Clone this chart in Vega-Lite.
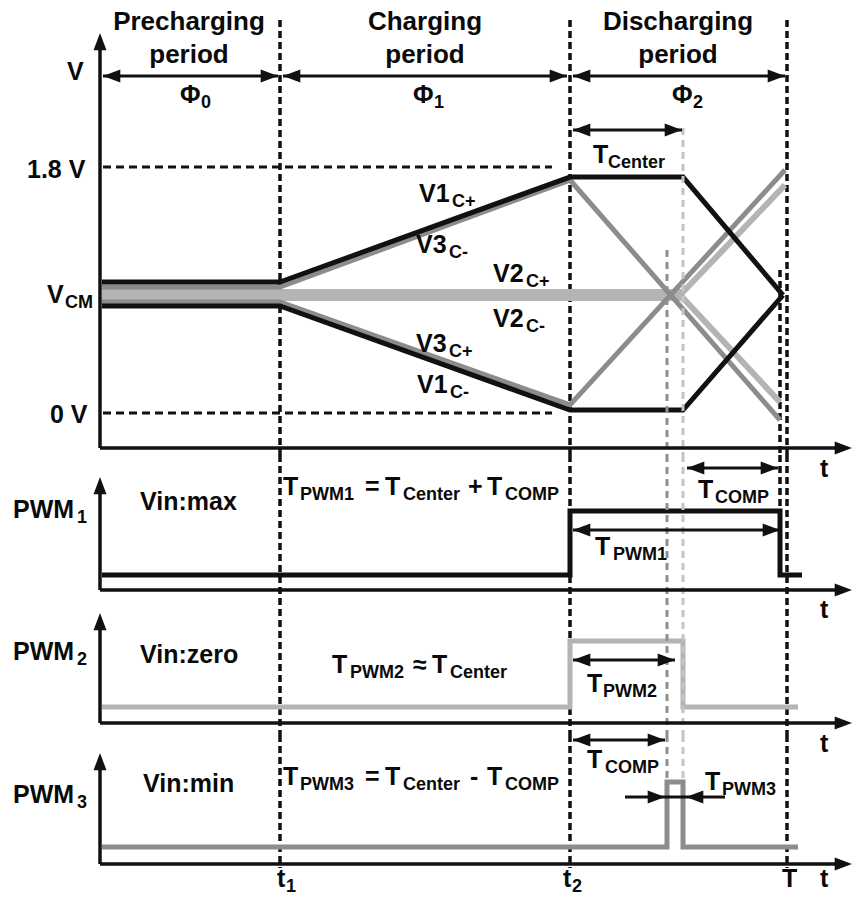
{
  "$schema": "https://vega.github.io/schema/vega-lite/v6.json",
  "padding": 0,
  "spacing": 0,
  "bounds": "flush",
  "background": "white",
  "config": {"view": {"stroke": null}, "text": {"font": "Liberation Sans", "fontWeight": "bold", "color": "#0a0a0a"}},
  "datasets": {
    "waves": [
      {"panel": "A", "grp": "V2", "series": "V2C+", "i": 0, "t": 0.02, "v": 0.885},
      {"panel": "A", "grp": "V2", "series": "V2C+", "i": 1, "t": 5.83, "v": 0.885},
      {"panel": "A", "grp": "V2", "series": "V2C+", "i": 2, "t": 6.85, "v": 1.668},
      {"panel": "A", "grp": "V2", "series": "V2C-", "i": 0, "t": 0.02, "v": 0.841},
      {"panel": "A", "grp": "V2", "series": "V2C-", "i": 1, "t": 5.83, "v": 0.841},
      {"panel": "A", "grp": "V2", "series": "V2C-", "i": 2, "t": 6.80, "v": 0.080},
      {"panel": "A", "grp": "V3", "series": "V3C-", "i": 0, "t": 0.02, "v": 0.922},
      {"panel": "A", "grp": "V3", "series": "V3C-", "i": 1, "t": 1.8, "v": 0.922},
      {"panel": "A", "grp": "V3", "series": "V3C-", "i": 2, "t": 4.7, "v": 1.704},
      {"panel": "A", "grp": "V3", "series": "V3C-", "i": 3, "t": 6.8, "v": -0.051},
      {"panel": "A", "grp": "V3", "series": "V3C+", "i": 0, "t": 0.02, "v": 0.812},
      {"panel": "A", "grp": "V3", "series": "V3C+", "i": 1, "t": 1.8, "v": 0.812},
      {"panel": "A", "grp": "V3", "series": "V3C+", "i": 2, "t": 4.7, "v": 0.059},
      {"panel": "A", "grp": "V3", "series": "V3C+", "i": 3, "t": 6.85, "v": 1.778},
      {"panel": "A", "grp": "V1", "series": "V1C+", "i": 0, "t": 0.02, "v": 0.958},
      {"panel": "A", "grp": "V1", "series": "V1C+", "i": 1, "t": 1.8, "v": 0.958},
      {"panel": "A", "grp": "V1", "series": "V1C+", "i": 2, "t": 4.7, "v": 1.726},
      {"panel": "A", "grp": "V1", "series": "V1C+", "i": 3, "t": 5.83, "v": 1.726},
      {"panel": "A", "grp": "V1", "series": "V1C+", "i": 4, "t": 6.83, "v": 0.863},
      {"panel": "A", "grp": "V1", "series": "V1C-", "i": 0, "t": 0.02, "v": 0.783},
      {"panel": "A", "grp": "V1", "series": "V1C-", "i": 1, "t": 1.8, "v": 0.783},
      {"panel": "A", "grp": "V1", "series": "V1C-", "i": 2, "t": 4.7, "v": 0.022},
      {"panel": "A", "grp": "V1", "series": "V1C-", "i": 3, "t": 5.83, "v": 0.022},
      {"panel": "A", "grp": "V1", "series": "V1C-", "i": 4, "t": 6.83, "v": 0.863},
      {"panel": "B", "grp": "P1", "series": "PWM1", "i": 0, "t": 0.02, "v": 0},
      {"panel": "B", "grp": "P1", "series": "PWM1", "i": 1, "t": 4.7, "v": 0},
      {"panel": "B", "grp": "P1", "series": "PWM1", "i": 2, "t": 4.7, "v": 1},
      {"panel": "B", "grp": "P1", "series": "PWM1", "i": 3, "t": 6.8, "v": 1},
      {"panel": "B", "grp": "P1", "series": "PWM1", "i": 4, "t": 6.8, "v": 0},
      {"panel": "B", "grp": "P1", "series": "PWM1", "i": 5, "t": 7.02, "v": 0},
      {"panel": "C", "grp": "P2", "series": "PWM2", "i": 0, "t": 0.02, "v": 0},
      {"panel": "C", "grp": "P2", "series": "PWM2", "i": 1, "t": 4.7, "v": 0},
      {"panel": "C", "grp": "P2", "series": "PWM2", "i": 2, "t": 4.7, "v": 1},
      {"panel": "C", "grp": "P2", "series": "PWM2", "i": 3, "t": 5.83, "v": 1},
      {"panel": "C", "grp": "P2", "series": "PWM2", "i": 4, "t": 5.83, "v": 0},
      {"panel": "C", "grp": "P2", "series": "PWM2", "i": 5, "t": 6.98, "v": 0},
      {"panel": "D", "grp": "P3", "series": "PWM3", "i": 0, "t": 0.02, "v": 0},
      {"panel": "D", "grp": "P3", "series": "PWM3", "i": 1, "t": 5.67, "v": 0},
      {"panel": "D", "grp": "P3", "series": "PWM3", "i": 2, "t": 5.67, "v": 1},
      {"panel": "D", "grp": "P3", "series": "PWM3", "i": 3, "t": 5.83, "v": 1},
      {"panel": "D", "grp": "P3", "series": "PWM3", "i": 4, "t": 5.83, "v": 0},
      {"panel": "D", "grp": "P3", "series": "PWM3", "i": 5, "t": 6.98, "v": 0}
    ],
    "vlines": [
      {"panel": "A", "kind": "edge", "t": 1.8, "v": 2.875, "v2": -0.307},
      {"panel": "A", "kind": "edge", "t": 4.7, "v": 2.875, "v2": -0.307},
      {"panel": "A", "kind": "edge", "t": 6.87, "v": 2.875, "v2": -0.307},
      {"panel": "A", "kind": "edge", "t": 6.8, "v": 1.046, "v2": -0.307},
      {"panel": "A", "kind": "comp", "t": 5.67, "v": 1.192, "v2": -0.307},
      {"panel": "A", "kind": "center", "t": 5.83, "v": 2.085, "v2": -0.307},
      {"panel": "B", "kind": "edge", "t": 1.8, "v": 1.875, "v2": -0.359},
      {"panel": "B", "kind": "edge", "t": 4.7, "v": 1.875, "v2": -0.359},
      {"panel": "B", "kind": "edge", "t": 6.87, "v": 1.875, "v2": -0.359},
      {"panel": "B", "kind": "edge", "t": 6.8, "v": 1.875, "v2": -0.031},
      {"panel": "B", "kind": "comp", "t": 5.67, "v": 1.875, "v2": -0.359},
      {"panel": "B", "kind": "center", "t": 5.83, "v": 1.875, "v2": -0.359},
      {"panel": "C", "kind": "edge", "t": 1.8, "v": 1.652, "v2": -0.424},
      {"panel": "C", "kind": "edge", "t": 4.7, "v": 1.652, "v2": -0.424},
      {"panel": "C", "kind": "edge", "t": 6.87, "v": 1.652, "v2": -0.424},
      {"panel": "C", "kind": "comp", "t": 5.67, "v": 1.652, "v2": -0.424},
      {"panel": "C", "kind": "center", "t": 5.83, "v": 1.652, "v2": -0.424},
      {"panel": "D", "kind": "edge", "t": 1.8, "v": 1.723, "v2": -0.323},
      {"panel": "D", "kind": "edge", "t": 4.7, "v": 1.723, "v2": -0.323},
      {"panel": "D", "kind": "edge", "t": 6.87, "v": 1.723, "v2": -0.323},
      {"panel": "D", "kind": "comp", "t": 5.67, "v": 1.723, "v2": 1.0},
      {"panel": "D", "kind": "center", "t": 5.83, "v": 1.723, "v2": 1.0}
    ],
    "hlines": [
      {"panel": "A", "t": 0.03, "t2": 4.52, "v": 1.8},
      {"panel": "A", "t": 0.03, "t2": 4.52, "v": 0}
    ],
    "shafts": [
      {"panel": "A", "role": "axis", "t": 0, "v": -0.256, "t2": 0, "v2": 2.70},
      {"panel": "A", "role": "axis", "t": 0, "v": -0.256, "t2": 7.40, "v2": -0.256},
      {"panel": "A", "role": "dim", "t": 0.03, "v": 2.465, "t2": 1.78, "v2": 2.465},
      {"panel": "A", "role": "dim", "t": 1.83, "v": 2.465, "t2": 4.67, "v2": 2.465},
      {"panel": "A", "role": "dim", "t": 4.73, "v": 2.465, "t2": 6.85, "v2": 2.465},
      {"panel": "A", "role": "dim", "t": 4.73, "v": 2.07, "t2": 5.82, "v2": 2.07},
      {"panel": "B", "role": "axis", "t": 0, "v": -0.234, "t2": 0, "v2": 1.45},
      {"panel": "B", "role": "axis", "t": 0, "v": -0.234, "t2": 7.40, "v2": -0.234},
      {"panel": "B", "role": "dim", "t": 5.87, "v": 1.672, "t2": 6.78, "v2": 1.672},
      {"panel": "B", "role": "dim", "t": 4.73, "v": 0.703, "t2": 6.80, "v2": 0.703},
      {"panel": "C", "role": "axis", "t": 0, "v": -0.242, "t2": 0, "v2": 1.35},
      {"panel": "C", "role": "axis", "t": 0, "v": -0.242, "t2": 7.40, "v2": -0.242},
      {"panel": "C", "role": "dim", "t": 4.73, "v": 0.712, "t2": 5.75, "v2": 0.712},
      {"panel": "D", "role": "axis", "t": 0, "v": -0.262, "t2": 0, "v2": 1.37},
      {"panel": "D", "role": "axis", "t": 0, "v": -0.262, "t2": 7.40, "v2": -0.262},
      {"panel": "D", "role": "dim", "t": 4.73, "v": 1.646, "t2": 5.65, "v2": 1.646},
      {"panel": "D", "role": "dim", "t": 5.25, "v": 0.769, "t2": 6.25, "v2": 0.769}
    ],
    "heads": [
      {"panel": "A", "dir": "up", "t": 0, "v": 2.78},
      {"panel": "A", "dir": "right", "t": 7.52, "v": -0.256},
      {"panel": "A", "dir": "left", "t": 0.03, "v": 2.465},
      {"panel": "A", "dir": "right", "t": 1.78, "v": 2.465},
      {"panel": "A", "dir": "left", "t": 1.83, "v": 2.465},
      {"panel": "A", "dir": "right", "t": 4.67, "v": 2.465},
      {"panel": "A", "dir": "left", "t": 4.73, "v": 2.465},
      {"panel": "A", "dir": "right", "t": 6.85, "v": 2.465},
      {"panel": "A", "dir": "left", "t": 4.73, "v": 2.07},
      {"panel": "A", "dir": "right", "t": 5.82, "v": 2.07},
      {"panel": "B", "dir": "up", "t": 0, "v": 1.531},
      {"panel": "B", "dir": "right", "t": 7.52, "v": -0.234},
      {"panel": "B", "dir": "left", "t": 5.87, "v": 1.672},
      {"panel": "B", "dir": "right", "t": 6.78, "v": 1.672},
      {"panel": "B", "dir": "left", "t": 4.73, "v": 0.703},
      {"panel": "B", "dir": "right", "t": 6.80, "v": 0.703},
      {"panel": "C", "dir": "up", "t": 0, "v": 1.424},
      {"panel": "C", "dir": "right", "t": 7.52, "v": -0.242},
      {"panel": "C", "dir": "left", "t": 4.73, "v": 0.712},
      {"panel": "C", "dir": "right", "t": 5.75, "v": 0.712},
      {"panel": "D", "dir": "up", "t": 0, "v": 1.446},
      {"panel": "D", "dir": "right", "t": 7.52, "v": -0.262},
      {"panel": "D", "dir": "left", "t": 4.73, "v": 1.646},
      {"panel": "D", "dir": "right", "t": 5.65, "v": 1.646},
      {"panel": "D", "dir": "right", "t": 5.65, "v": 0.769},
      {"panel": "D", "dir": "left", "t": 5.86, "v": 0.769}
    ],
    "texts": [
      {"panel": "A", "kind": "head", "text": "Precharging", "t": 0.89, "v": 2.802},
      {"panel": "A", "kind": "head", "text": "period", "t": 0.89, "v": 2.560},
      {"panel": "A", "kind": "head", "text": "Charging", "t": 3.25, "v": 2.802},
      {"panel": "A", "kind": "head", "text": "period", "t": 3.25, "v": 2.560},
      {"panel": "A", "kind": "head", "text": "Discharging", "t": 5.78, "v": 2.802},
      {"panel": "A", "kind": "head", "text": "period", "t": 5.78, "v": 2.560},
      {"panel": "A", "kind": "main", "text": "Φ", "t": 0.80, "v": 2.268},
      {"panel": "A", "kind": "sub", "text": "0", "t": 1.01, "v": 2.268},
      {"panel": "A", "kind": "main", "text": "Φ", "t": 3.13, "v": 2.268},
      {"panel": "A", "kind": "sub", "text": "1", "t": 3.34, "v": 2.268},
      {"panel": "A", "kind": "main", "text": "Φ", "t": 5.72, "v": 2.268},
      {"panel": "A", "kind": "sub", "text": "2", "t": 5.93, "v": 2.268},
      {"panel": "A", "kind": "main", "text": "V", "t": -0.33, "v": 2.436},
      {"panel": "A", "kind": "main", "text": "1.8 V", "t": -0.73, "v": 1.719},
      {"panel": "A", "kind": "main", "text": "V", "t": -0.53, "v": 0.805},
      {"panel": "A", "kind": "sub", "text": "CM", "t": -0.35, "v": 0.805},
      {"panel": "A", "kind": "main", "text": "0 V", "t": -0.50, "v": -0.073},
      {"panel": "A", "kind": "main", "text": "T", "t": 4.93, "v": 1.829},
      {"panel": "A", "kind": "sub", "text": "Center", "t": 5.08, "v": 1.829},
      {"panel": "A", "kind": "main", "text": "V1", "t": 3.19, "v": 1.544},
      {"panel": "A", "kind": "sub", "text": "C+", "t": 3.52, "v": 1.544},
      {"panel": "A", "kind": "main", "text": "V3", "t": 3.16, "v": 1.170},
      {"panel": "A", "kind": "sub", "text": "C-", "t": 3.49, "v": 1.170},
      {"panel": "A", "kind": "main", "text": "V2", "t": 3.93, "v": 0.958},
      {"panel": "A", "kind": "sub", "text": "C+", "t": 4.26, "v": 0.958},
      {"panel": "A", "kind": "main", "text": "V2", "t": 3.93, "v": 0.629},
      {"panel": "A", "kind": "sub", "text": "C-", "t": 4.26, "v": 0.629},
      {"panel": "A", "kind": "main", "text": "V3", "t": 3.16, "v": 0.446},
      {"panel": "A", "kind": "sub", "text": "C+", "t": 3.49, "v": 0.446},
      {"panel": "A", "kind": "main", "text": "V1", "t": 3.17, "v": 0.146},
      {"panel": "A", "kind": "sub", "text": "C-", "t": 3.50, "v": 0.146},
      {"panel": "B", "kind": "main", "text": "t", "t": 7.20, "v": 1.531},
      {"panel": "B", "kind": "main", "text": "PWM", "t": -0.87, "v": 0.891},
      {"panel": "B", "kind": "sub", "text": "1", "t": -0.23, "v": 0.891},
      {"panel": "B", "kind": "main", "text": "Vin:max", "t": 0.40, "v": 1.016},
      {"panel": "B", "kind": "main", "text": "T", "t": 1.83, "v": 1.25},
      {"panel": "B", "kind": "sub", "text": "PWM1", "t": 2.00, "v": 1.25},
      {"panel": "B", "kind": "main", "text": "=", "t": 2.65, "v": 1.25},
      {"panel": "B", "kind": "main", "text": "T", "t": 2.85, "v": 1.25},
      {"panel": "B", "kind": "sub", "text": "Center", "t": 3.03, "v": 1.25},
      {"panel": "B", "kind": "main", "text": "+", "t": 3.68, "v": 1.25},
      {"panel": "B", "kind": "main", "text": "T", "t": 3.87, "v": 1.25},
      {"panel": "B", "kind": "sub", "text": "COMP", "t": 4.05, "v": 1.25},
      {"panel": "B", "kind": "main", "text": "T", "t": 5.98, "v": 1.203},
      {"panel": "B", "kind": "sub", "text": "COMP", "t": 6.15, "v": 1.203},
      {"panel": "B", "kind": "main", "text": "T", "t": 4.95, "v": 0.3125},
      {"panel": "B", "kind": "sub", "text": "PWM1", "t": 5.13, "v": 0.3125},
      {"panel": "C", "kind": "main", "text": "t", "t": 7.20, "v": 1.348},
      {"panel": "C", "kind": "main", "text": "PWM", "t": -0.87, "v": 0.712},
      {"panel": "C", "kind": "sub", "text": "2", "t": -0.23, "v": 0.712},
      {"panel": "C", "kind": "main", "text": "Vin:zero", "t": 0.40, "v": 0.667},
      {"panel": "C", "kind": "main", "text": "T", "t": 2.32, "v": 0.515},
      {"panel": "C", "kind": "sub", "text": "PWM2", "t": 2.50, "v": 0.515},
      {"panel": "C", "kind": "main", "text": "≈", "t": 3.13, "v": 0.515},
      {"panel": "C", "kind": "main", "text": "T", "t": 3.32, "v": 0.515},
      {"panel": "C", "kind": "sub", "text": "Center", "t": 3.50, "v": 0.515},
      {"panel": "C", "kind": "main", "text": "T", "t": 4.87, "v": 0.227},
      {"panel": "C", "kind": "sub", "text": "PWM2", "t": 5.03, "v": 0.227},
      {"panel": "D", "kind": "main", "text": "t", "t": 7.20, "v": 1.462},
      {"panel": "D", "kind": "main", "text": "PWM", "t": -0.87, "v": 0.677},
      {"panel": "D", "kind": "sub", "text": "3", "t": -0.23, "v": 0.677},
      {"panel": "D", "kind": "main", "text": "Vin:min", "t": 0.43, "v": 0.846},
      {"panel": "D", "kind": "main", "text": "T", "t": 1.83, "v": 0.954},
      {"panel": "D", "kind": "sub", "text": "PWM3", "t": 2.00, "v": 0.954},
      {"panel": "D", "kind": "main", "text": "=", "t": 2.65, "v": 0.954},
      {"panel": "D", "kind": "main", "text": "T", "t": 2.85, "v": 0.954},
      {"panel": "D", "kind": "sub", "text": "Center", "t": 3.03, "v": 0.954},
      {"panel": "D", "kind": "main", "text": "-", "t": 3.70, "v": 0.954},
      {"panel": "D", "kind": "main", "text": "T", "t": 3.87, "v": 0.954},
      {"panel": "D", "kind": "sub", "text": "COMP", "t": 4.05, "v": 0.954},
      {"panel": "D", "kind": "main", "text": "T", "t": 4.87, "v": 1.215},
      {"panel": "D", "kind": "sub", "text": "COMP", "t": 5.05, "v": 1.215},
      {"panel": "D", "kind": "main", "text": "T", "t": 6.05, "v": 0.877},
      {"panel": "D", "kind": "sub", "text": "PWM3", "t": 6.22, "v": 0.877},
      {"panel": "D", "kind": "main", "text": "t", "t": 1.77, "v": -0.615},
      {"panel": "D", "kind": "sub", "text": "1", "t": 1.86, "v": -0.615},
      {"panel": "D", "kind": "main", "text": "t", "t": 4.63, "v": -0.615},
      {"panel": "D", "kind": "sub", "text": "2", "t": 4.72, "v": -0.615},
      {"panel": "D", "kind": "main", "text": "T", "t": 6.82, "v": -0.615},
      {"panel": "D", "kind": "main", "text": "t", "t": 7.20, "v": -0.615}
    ]
  },
  "vconcat": [
    {
      "width": 856, "height": 455,
      "encoding": {
        "x": {"field": "t", "type": "quantitative", "scale": {"domain": [-1.0, 7.56], "nice": false, "zero": false}, "axis": null},
        "y": {"field": "v", "type": "quantitative", "scale": {"domain": [-0.307, 3.021], "nice": false, "zero": false}, "axis": null}
      },
      "layer": [
        {"data": {"name": "vlines"}, "transform": [{"filter": "datum.panel === 'A' && datum.kind === 'edge'"}], "mark": {"type": "rule", "color": "#111111", "strokeWidth": 3.5, "strokeDash": [7, 4]}, "encoding": {"y2": {"field": "v2"}}},
        {"data": {"name": "hlines"}, "transform": [{"filter": "datum.panel === 'A'"}], "mark": {"type": "rule", "color": "#111111", "strokeWidth": 3, "strokeDash": [8, 5]}, "encoding": {"x2": {"field": "t2"}}},
        {"data": {"name": "waves"}, "transform": [{"filter": "datum.panel === 'A' && datum.grp === 'V2'"}], "mark": {"type": "line", "color": "#b4b4b4", "strokeWidth": 6}, "encoding": {"detail": {"field": "series"}, "order": {"field": "i", "type": "quantitative"}}},
        {"data": {"name": "waves"}, "transform": [{"filter": "datum.panel === 'A' && datum.grp === 'V3'"}], "mark": {"type": "line", "color": "#8c8c8c", "strokeWidth": 5}, "encoding": {"detail": {"field": "series"}, "order": {"field": "i", "type": "quantitative"}}},
        {"data": {"name": "waves"}, "transform": [{"filter": "datum.panel === 'A' && datum.grp === 'V1'"}], "mark": {"type": "line", "color": "#111111", "strokeWidth": 5}, "encoding": {"detail": {"field": "series"}, "order": {"field": "i", "type": "quantitative"}}},
        {"data": {"name": "vlines"}, "transform": [{"filter": "datum.panel === 'A' && datum.kind === 'comp'"}], "mark": {"type": "rule", "color": "#8f8f8f", "strokeWidth": 3, "strokeDash": [7, 5]}, "encoding": {"y2": {"field": "v2"}}},
        {"data": {"name": "vlines"}, "transform": [{"filter": "datum.panel === 'A' && datum.kind === 'center'"}], "mark": {"type": "rule", "color": "#c4c4c4", "strokeWidth": 3, "strokeDash": [7, 5]}, "encoding": {"y2": {"field": "v2"}}},
        {"data": {"name": "shafts"}, "transform": [{"filter": "datum.panel === 'A' && datum.role === 'axis'"}], "mark": {"type": "rule", "color": "#111111", "strokeWidth": 3.5}, "encoding": {"x2": {"field": "t2"}, "y2": {"field": "v2"}}},
        {"data": {"name": "shafts"}, "transform": [{"filter": "datum.panel === 'A' && datum.role === 'dim'"}], "mark": {"type": "rule", "color": "#111111", "strokeWidth": 3}, "encoding": {"x2": {"field": "t2"}, "y2": {"field": "v2"}}},
        {"data": {"name": "heads"}, "transform": [{"filter": "datum.panel === 'A' && datum.dir === 'right'"}], "mark": {"type": "point", "shape": "M0,0L-2,-0.75L-2,0.75Z", "size": 300, "filled": true, "color": "#111111", "opacity": 1, "angle": 0}},
        {"data": {"name": "heads"}, "transform": [{"filter": "datum.panel === 'A' && datum.dir === 'left'"}], "mark": {"type": "point", "shape": "M0,0L-2,-0.75L-2,0.75Z", "size": 300, "filled": true, "color": "#111111", "opacity": 1, "angle": 180}},
        {"data": {"name": "heads"}, "transform": [{"filter": "datum.panel === 'A' && datum.dir === 'up'"}], "mark": {"type": "point", "shape": "M0,0L-2,-0.75L-2,0.75Z", "size": 300, "filled": true, "color": "#111111", "opacity": 1, "angle": 270}},
        {"data": {"name": "texts"}, "transform": [{"filter": "datum.panel === 'A' && datum.kind === 'head'"}], "mark": {"type": "text", "align": "center", "baseline": "alphabetic", "fontSize": 26}, "encoding": {"text": {"field": "text"}}},
        {"data": {"name": "texts"}, "transform": [{"filter": "datum.panel === 'A' && datum.kind === 'main'"}], "mark": {"type": "text", "align": "left", "baseline": "alphabetic", "fontSize": 25}, "encoding": {"text": {"field": "text"}}},
        {"data": {"name": "texts"}, "transform": [{"filter": "datum.panel === 'A' && datum.kind === 'sub'"}], "mark": {"type": "text", "align": "left", "baseline": "alphabetic", "fontSize": 18, "dy": 5}, "encoding": {"text": {"field": "text"}}}
      ]
    },
    {
      "width": 856, "height": 143,
      "encoding": {
        "x": {"field": "t", "type": "quantitative", "scale": {"domain": [-1.0, 7.56], "nice": false, "zero": false}, "axis": null},
        "y": {"field": "v", "type": "quantitative", "scale": {"domain": [-0.359, 1.875], "nice": false, "zero": false}, "axis": null}
      },
      "layer": [
        {"data": {"name": "vlines"}, "transform": [{"filter": "datum.panel === 'B' && datum.kind === 'edge'"}], "mark": {"type": "rule", "color": "#111111", "strokeWidth": 3.5, "strokeDash": [7, 4]}, "encoding": {"y2": {"field": "v2"}}},
        {"data": {"name": "waves"}, "transform": [{"filter": "datum.panel === 'B'"}], "mark": {"type": "line", "color": "#111111", "strokeWidth": 5}, "encoding": {"detail": {"field": "series"}, "order": {"field": "i", "type": "quantitative"}}},
        {"data": {"name": "vlines"}, "transform": [{"filter": "datum.panel === 'B' && datum.kind === 'comp'"}], "mark": {"type": "rule", "color": "#8f8f8f", "strokeWidth": 3, "strokeDash": [7, 5]}, "encoding": {"y2": {"field": "v2"}}},
        {"data": {"name": "vlines"}, "transform": [{"filter": "datum.panel === 'B' && datum.kind === 'center'"}], "mark": {"type": "rule", "color": "#c4c4c4", "strokeWidth": 3, "strokeDash": [7, 5]}, "encoding": {"y2": {"field": "v2"}}},
        {"data": {"name": "shafts"}, "transform": [{"filter": "datum.panel === 'B' && datum.role === 'axis'"}], "mark": {"type": "rule", "color": "#111111", "strokeWidth": 3.5}, "encoding": {"x2": {"field": "t2"}, "y2": {"field": "v2"}}},
        {"data": {"name": "shafts"}, "transform": [{"filter": "datum.panel === 'B' && datum.role === 'dim'"}], "mark": {"type": "rule", "color": "#111111", "strokeWidth": 3}, "encoding": {"x2": {"field": "t2"}, "y2": {"field": "v2"}}},
        {"data": {"name": "heads"}, "transform": [{"filter": "datum.panel === 'B' && datum.dir === 'right'"}], "mark": {"type": "point", "shape": "M0,0L-2,-0.75L-2,0.75Z", "size": 300, "filled": true, "color": "#111111", "opacity": 1, "angle": 0}},
        {"data": {"name": "heads"}, "transform": [{"filter": "datum.panel === 'B' && datum.dir === 'left'"}], "mark": {"type": "point", "shape": "M0,0L-2,-0.75L-2,0.75Z", "size": 300, "filled": true, "color": "#111111", "opacity": 1, "angle": 180}},
        {"data": {"name": "heads"}, "transform": [{"filter": "datum.panel === 'B' && datum.dir === 'up'"}], "mark": {"type": "point", "shape": "M0,0L-2,-0.75L-2,0.75Z", "size": 300, "filled": true, "color": "#111111", "opacity": 1, "angle": 270}},
        {"data": {"name": "texts"}, "transform": [{"filter": "datum.panel === 'B' && datum.kind === 'main'"}], "mark": {"type": "text", "align": "left", "baseline": "alphabetic", "fontSize": 25}, "encoding": {"text": {"field": "text"}}},
        {"data": {"name": "texts"}, "transform": [{"filter": "datum.panel === 'B' && datum.kind === 'sub'"}], "mark": {"type": "text", "align": "left", "baseline": "alphabetic", "fontSize": 18, "dy": 5}, "encoding": {"text": {"field": "text"}}}
      ]
    },
    {
      "width": 856, "height": 137,
      "encoding": {
        "x": {"field": "t", "type": "quantitative", "scale": {"domain": [-1.0, 7.56], "nice": false, "zero": false}, "axis": null},
        "y": {"field": "v", "type": "quantitative", "scale": {"domain": [-0.424, 1.652], "nice": false, "zero": false}, "axis": null}
      },
      "layer": [
        {"data": {"name": "vlines"}, "transform": [{"filter": "datum.panel === 'C' && datum.kind === 'edge'"}], "mark": {"type": "rule", "color": "#111111", "strokeWidth": 3.5, "strokeDash": [7, 4]}, "encoding": {"y2": {"field": "v2"}}},
        {"data": {"name": "waves"}, "transform": [{"filter": "datum.panel === 'C'"}], "mark": {"type": "line", "color": "#b4b4b4", "strokeWidth": 5}, "encoding": {"detail": {"field": "series"}, "order": {"field": "i", "type": "quantitative"}}},
        {"data": {"name": "vlines"}, "transform": [{"filter": "datum.panel === 'C' && datum.kind === 'comp'"}], "mark": {"type": "rule", "color": "#8f8f8f", "strokeWidth": 3, "strokeDash": [7, 5]}, "encoding": {"y2": {"field": "v2"}}},
        {"data": {"name": "vlines"}, "transform": [{"filter": "datum.panel === 'C' && datum.kind === 'center'"}], "mark": {"type": "rule", "color": "#c4c4c4", "strokeWidth": 3, "strokeDash": [7, 5]}, "encoding": {"y2": {"field": "v2"}}},
        {"data": {"name": "shafts"}, "transform": [{"filter": "datum.panel === 'C' && datum.role === 'axis'"}], "mark": {"type": "rule", "color": "#111111", "strokeWidth": 3.5}, "encoding": {"x2": {"field": "t2"}, "y2": {"field": "v2"}}},
        {"data": {"name": "shafts"}, "transform": [{"filter": "datum.panel === 'C' && datum.role === 'dim'"}], "mark": {"type": "rule", "color": "#111111", "strokeWidth": 3}, "encoding": {"x2": {"field": "t2"}, "y2": {"field": "v2"}}},
        {"data": {"name": "heads"}, "transform": [{"filter": "datum.panel === 'C' && datum.dir === 'right'"}], "mark": {"type": "point", "shape": "M0,0L-2,-0.75L-2,0.75Z", "size": 300, "filled": true, "color": "#111111", "opacity": 1, "angle": 0}},
        {"data": {"name": "heads"}, "transform": [{"filter": "datum.panel === 'C' && datum.dir === 'left'"}], "mark": {"type": "point", "shape": "M0,0L-2,-0.75L-2,0.75Z", "size": 300, "filled": true, "color": "#111111", "opacity": 1, "angle": 180}},
        {"data": {"name": "heads"}, "transform": [{"filter": "datum.panel === 'C' && datum.dir === 'up'"}], "mark": {"type": "point", "shape": "M0,0L-2,-0.75L-2,0.75Z", "size": 300, "filled": true, "color": "#111111", "opacity": 1, "angle": 270}},
        {"data": {"name": "texts"}, "transform": [{"filter": "datum.panel === 'C' && datum.kind === 'main'"}], "mark": {"type": "text", "align": "left", "baseline": "alphabetic", "fontSize": 25}, "encoding": {"text": {"field": "text"}}},
        {"data": {"name": "texts"}, "transform": [{"filter": "datum.panel === 'C' && datum.kind === 'sub'"}], "mark": {"type": "text", "align": "left", "baseline": "alphabetic", "fontSize": 18, "dy": 5}, "encoding": {"text": {"field": "text"}}}
      ]
    },
    {
      "width": 856, "height": 165,
      "encoding": {
        "x": {"field": "t", "type": "quantitative", "scale": {"domain": [-1.0, 7.56], "nice": false, "zero": false}, "axis": null},
        "y": {"field": "v", "type": "quantitative", "scale": {"domain": [-0.815, 1.723], "nice": false, "zero": false}, "axis": null}
      },
      "layer": [
        {"data": {"name": "vlines"}, "transform": [{"filter": "datum.panel === 'D' && datum.kind === 'edge'"}], "mark": {"type": "rule", "color": "#111111", "strokeWidth": 3.5, "strokeDash": [7, 4]}, "encoding": {"y2": {"field": "v2"}}},
        {"data": {"name": "waves"}, "transform": [{"filter": "datum.panel === 'D'"}], "mark": {"type": "line", "color": "#8c8c8c", "strokeWidth": 5}, "encoding": {"detail": {"field": "series"}, "order": {"field": "i", "type": "quantitative"}}},
        {"data": {"name": "vlines"}, "transform": [{"filter": "datum.panel === 'D' && datum.kind === 'comp'"}], "mark": {"type": "rule", "color": "#8f8f8f", "strokeWidth": 3, "strokeDash": [7, 5]}, "encoding": {"y2": {"field": "v2"}}},
        {"data": {"name": "vlines"}, "transform": [{"filter": "datum.panel === 'D' && datum.kind === 'center'"}], "mark": {"type": "rule", "color": "#c4c4c4", "strokeWidth": 3, "strokeDash": [7, 5]}, "encoding": {"y2": {"field": "v2"}}},
        {"data": {"name": "shafts"}, "transform": [{"filter": "datum.panel === 'D' && datum.role === 'axis'"}], "mark": {"type": "rule", "color": "#111111", "strokeWidth": 3.5}, "encoding": {"x2": {"field": "t2"}, "y2": {"field": "v2"}}},
        {"data": {"name": "shafts"}, "transform": [{"filter": "datum.panel === 'D' && datum.role === 'dim'"}], "mark": {"type": "rule", "color": "#111111", "strokeWidth": 3}, "encoding": {"x2": {"field": "t2"}, "y2": {"field": "v2"}}},
        {"data": {"name": "heads"}, "transform": [{"filter": "datum.panel === 'D' && datum.dir === 'right'"}], "mark": {"type": "point", "shape": "M0,0L-2,-0.75L-2,0.75Z", "size": 300, "filled": true, "color": "#111111", "opacity": 1, "angle": 0}},
        {"data": {"name": "heads"}, "transform": [{"filter": "datum.panel === 'D' && datum.dir === 'left'"}], "mark": {"type": "point", "shape": "M0,0L-2,-0.75L-2,0.75Z", "size": 300, "filled": true, "color": "#111111", "opacity": 1, "angle": 180}},
        {"data": {"name": "heads"}, "transform": [{"filter": "datum.panel === 'D' && datum.dir === 'up'"}], "mark": {"type": "point", "shape": "M0,0L-2,-0.75L-2,0.75Z", "size": 300, "filled": true, "color": "#111111", "opacity": 1, "angle": 270}},
        {"data": {"name": "texts"}, "transform": [{"filter": "datum.panel === 'D' && datum.kind === 'main'"}], "mark": {"type": "text", "align": "left", "baseline": "alphabetic", "fontSize": 25}, "encoding": {"text": {"field": "text"}}},
        {"data": {"name": "texts"}, "transform": [{"filter": "datum.panel === 'D' && datum.kind === 'sub'"}], "mark": {"type": "text", "align": "left", "baseline": "alphabetic", "fontSize": 18, "dy": 5}, "encoding": {"text": {"field": "text"}}}
      ]
    }
  ]
}
